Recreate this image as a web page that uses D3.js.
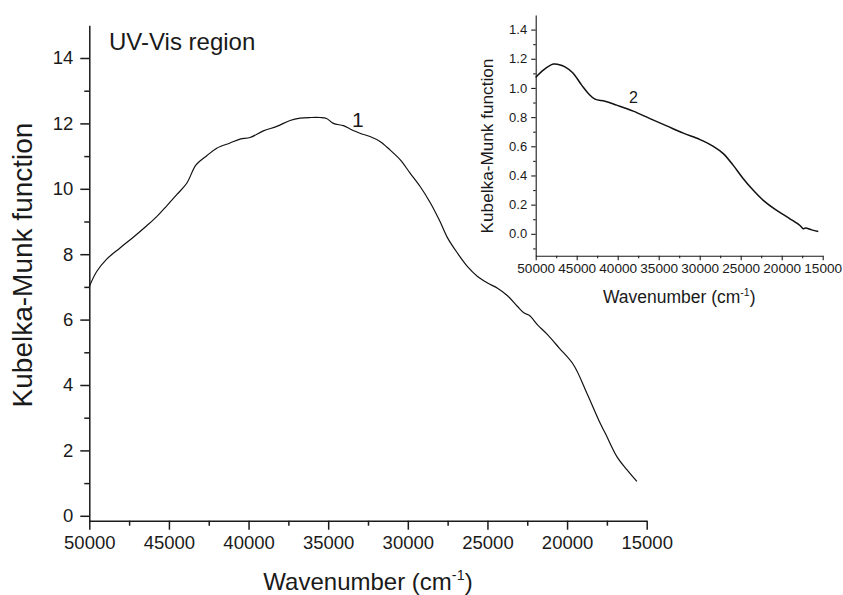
<!DOCTYPE html>
<html>
<head>
<meta charset="utf-8">
<script src="https://cdn.jsdelivr.net/npm/d3@7"></script>
<style>
  body { margin: 0; background: #fff; }
  svg { display: block; font-family: "Liberation Sans", Arial, sans-serif; }
  text { fill: #1a1a1a; }
</style>
</head>
<body>
<svg id="chart" width="843" height="595"></svg>
<script>
// Curve 1: UV-Vis spectrum (main panel)
const waveMain = [50000, 49535, 48907, 48071, 47236, 46394, 45766, 45138, 44510, 43882, 43297, 42626, 41997, 41162, 40534, 39906, 39070, 38229, 37393, 36765, 36100, 35509, 35100, 34673, 34045, 33624, 33005, 32377, 31749, 31121, 30484, 29856, 29226, 28598, 28000, 27506, 26878, 26250, 25622, 24995, 24367, 23739, 23110, 22690, 22377, 21856, 21228, 20492, 19598, 18755, 17920, 17607, 16873, 16246, 15618];
const kmMain = [7.01, 7.47, 7.85, 8.19, 8.52, 8.87, 9.15, 9.48, 9.82, 10.17, 10.73, 11.01, 11.24, 11.40, 11.52, 11.57, 11.77, 11.91, 12.09, 12.16, 12.18, 12.18, 12.15, 12.00, 11.93, 11.83, 11.70, 11.60, 11.45, 11.19, 10.89, 10.48, 10.07, 9.58, 9.02, 8.50, 8.03, 7.62, 7.32, 7.12, 6.96, 6.73, 6.40, 6.20, 6.13, 5.84, 5.54, 5.13, 4.62, 3.75, 2.83, 2.53, 1.81, 1.41, 1.05];

// Curve 2: inset spectrum
const waveInset = [50000, 49073, 47854, 47244, 46427, 45488, 44390, 43585, 42768, 41549, 40122, 38098, 36061, 34024, 32000, 29963, 28341, 27122, 25902, 24683, 23463, 22244, 20610, 18988, 17768, 17360, 17100, 16341, 15537];
const kmInset = [1.072, 1.122, 1.164, 1.161, 1.145, 1.104, 1.019, 0.962, 0.923, 0.909, 0.882, 0.841, 0.790, 0.740, 0.690, 0.646, 0.600, 0.550, 0.469, 0.378, 0.298, 0.229, 0.160, 0.103, 0.057, 0.034, 0.040, 0.027, 0.016];

// Tick values
const xTicks = [50000, 45000, 40000, 35000, 30000, 25000, 20000, 15000];
const xMinor = [47500, 42500, 37500, 32500, 27500, 22500, 17500];
const yTicksMain = [0, 2, 4, 6, 8, 10, 12, 14];
const yMinorMain = [1, 3, 5, 7, 9, 11, 13];
const yTicksInset = [0, 0.2, 0.4, 0.6, 0.8, 1.0, 1.2, 1.4];
const yMinorInset = [-0.1, 0.1, 0.3, 0.5, 0.7, 0.9, 1.1, 1.3];

const svg = d3.select('#chart');

function drawPanel(cfg) {
    const x = d3.scaleLinear().domain([50000, 15000]).range([cfg.left, cfg.right]);
    const y = d3.scaleLinear().domain(cfg.yDomain).range([cfg.bottom, cfg.top]);
    const g = svg.append('g');

    // minor ticks (no labels)
    g.append('g')
        .attr('transform', `translate(0,${cfg.bottom})`)
        .call(d3.axisBottom(x).tickValues(xMinor).tickSize(cfg.minor).tickFormat(''))
        .call(a => a.select('.domain').remove());
    g.append('g')
        .attr('transform', `translate(${cfg.left},0)`)
        .call(d3.axisLeft(y).tickValues(cfg.yMinor).tickSize(cfg.minor).tickFormat(''))
        .call(a => a.select('.domain').remove());

    // major axes
    const xAxis = g.append('g')
        .attr('transform', `translate(0,${cfg.bottom})`)
        .call(d3.axisBottom(x).tickValues(xTicks).tickSize(cfg.major).tickSizeOuter(0).tickPadding(cfg.xPad).tickFormat(d3.format('d')));
    xAxis.selectAll('text').style('font-size', cfg.xTickFont + 'px');

    const yAxis = g.append('g')
        .attr('transform', `translate(${cfg.left},0)`)
        .call(d3.axisLeft(y).tickValues(cfg.yTicks).tickSize(cfg.major).tickSizeOuter(0).tickPadding(cfg.yPad).tickFormat(cfg.yFormat));
    yAxis.selectAll('text').style('font-size', cfg.yTickFont + 'px');

    g.selectAll('.domain, .tick line').attr('stroke', '#1a1a1a').attr('stroke-width', cfg.axisWidth);
    g.selectAll('.tick text').attr('fill', '#1a1a1a');

    // spectrum line
    const line = d3.line()
        .x((d, i) => x(cfg.waves[i]))
        .y(d => y(d))
        .curve(d3.curveCatmullRom.alpha(0.5));
    g.append('path')
        .datum(cfg.values)
        .attr('d', line)
        .attr('fill', 'none')
        .attr('stroke', '#111')
        .attr('stroke-width', cfg.lineWidth);

    // axis titles
    const xt = g.append('text')
        .attr('x', (cfg.left + cfg.right) / 2)
        .attr('y', cfg.xTitleY)
        .attr('text-anchor', 'middle')
        .style('font-size', cfg.xTitleFont + 'px');
    xt.append('tspan').text('Wavenumber (cm');
    xt.append('tspan').text('-1')
        .style('font-size', (cfg.xTitleFont * 0.6) + 'px')
        .attr('dy', -cfg.xTitleFont * 0.4);
    xt.append('tspan').text(')')
        .attr('dy', cfg.xTitleFont * 0.4);

    g.append('text')
        .attr('transform', `translate(${cfg.yTitleX},${cfg.yTitleY}) rotate(-90)`)
        .attr('text-anchor', 'middle')
        .style('font-size', cfg.yTitleFont + 'px')
        .text('Kubelka-Munk function');

    return { x, y };
}

drawPanel({
    left: 89.3, right: 646.7, top: 25.3, bottom: 520.7,
    yDomain: [-0.15, 15],
    yTicks: yTicksMain, yMinor: yMinorMain, yFormat: d3.format('d'),
    major: 9, minor: 5, xPad: 6, yPad: 7, axisWidth: 1.5,
    xTickFont: 18.5, yTickFont: 18.5,
    waves: waveMain, values: kmMain, lineWidth: 1.2,
    xTitleY: 590, xTitleFont: 24,
    yTitleX: 32, yTitleY: 265, yTitleFont: 28
});

drawPanel({
    left: 535.7, right: 822.7, top: 15, bottom: 255.7,
    yDomain: [-0.15, 1.5],
    yTicks: yTicksInset, yMinor: yMinorInset, yFormat: d3.format('.1f'),
    major: 4.5, minor: 2.5, xPad: 3, yPad: 4, axisWidth: 1.1,
    xTickFont: 13.6, yTickFont: 13,
    waves: waveInset, values: kmInset, lineWidth: 1.5,
    xTitleY: 302.7, xTitleFont: 17.5,
    yTitleX: 493, yTitleY: 146, yTitleFont: 17.2
});

// annotations
svg.append('text').attr('x', 109).attr('y', 50).style('font-size', '24px').text('UV-Vis region');
svg.append('text').attr('x', 352).attr('y', 127).style('font-size', '21px').text('1');
svg.append('text').attr('x', 629).attr('y', 103).style('font-size', '16px').text('2');
</script>
</body>
</html>
